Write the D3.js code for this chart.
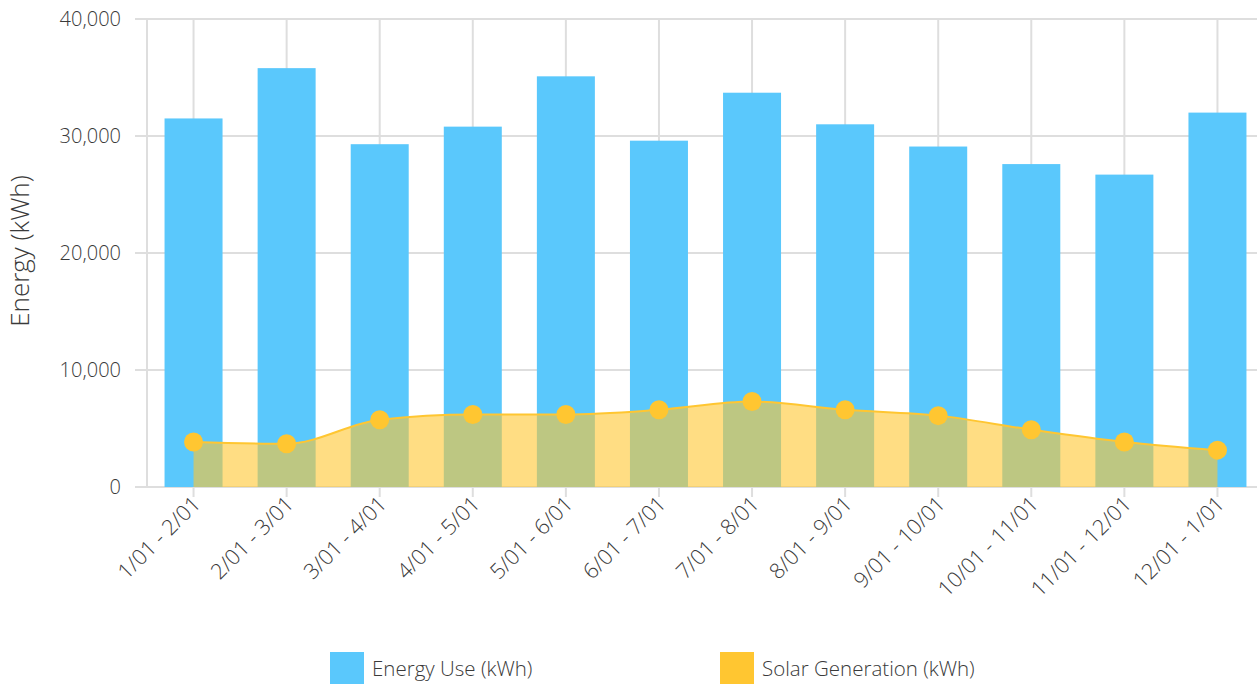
<!DOCTYPE html>
<html>
<head>
<meta charset="utf-8">
<script src="https://cdn.jsdelivr.net/npm/d3@7.9.0/dist/d3.min.js"></script>
<style>
  body { margin: 0; background: #fff; overflow: hidden; }
  text { font-family: "Open Sans", sans-serif; font-weight: 300; fill: #3a3a3a; }
</style>
</head>
<body>
<svg id="chart" width="1257" height="684"></svg>
<script>
const periods = ['1/01 - 2/01', '2/01 - 3/01', '3/01 - 4/01', '4/01 - 5/01', '5/01 - 6/01', '6/01 - 7/01',
  '7/01 - 8/01', '8/01 - 9/01', '9/01 - 10/01', '10/01 - 11/01', '11/01 - 12/01', '12/01 - 1/01'];
const energyUse = [31500, 35800, 29300, 30800, 35100, 29600, 33700, 31000, 29100, 27600, 26700, 32000];
const solarGen = [3850, 3700, 5750, 6200, 6200, 6600, 7300, 6600, 6100, 4900, 3850, 3150];
const yTicks = [0, 10000, 20000, 30000, 40000];

const blue = '#5ac8fc';
const yellow = '#ffc631';

const svg = d3.select('#chart');
const plotL = 147, plotR = 1264, plotT = 19, plotB = 487;

const x = d3.scaleBand().domain(periods).range([plotL, plotR]);
const y = d3.scaleLinear().domain([0, 40000]).range([plotB, plotT]);
const cx = d => x(d) + x.bandwidth() / 2;
const barW = 58;

// grid
const grid = svg.append('g');
grid.selectAll('.hgrid').data(yTicks).enter().append('line')
  .attr('x1', plotL - 12).attr('x2', 1257)
  .attr('y1', d => y(d)).attr('y2', d => y(d))
  .attr('stroke', '#dedede').attr('stroke-width', 2);
grid.selectAll('.vgrid').data(periods).enter().append('line')
  .attr('x1', cx).attr('x2', cx)
  .attr('y1', plotT).attr('y2', plotB + 10)
  .attr('stroke', '#dedede').attr('stroke-width', 2);
grid.append('line')
  .attr('x1', plotL).attr('x2', plotL).attr('y1', plotT).attr('y2', plotB)
  .attr('stroke', '#dedede').attr('stroke-width', 2);

// y labels
svg.selectAll('.ylab').data(yTicks).enter().append('text')
  .attr('x', 121).attr('y', d => y(d)).attr('dy', '0.35em')
  .attr('text-anchor', 'end').attr('font-size', 20)
  .text(d => d3.format(',')(d));

svg.append('text')
  .attr('transform', `translate(29,251) rotate(-90)`)
  .attr('text-anchor', 'middle').attr('font-size', 26)
  .attr('fill', '#555')
  .text('Energy (kWh)');

// bars
svg.selectAll('.bar').data(energyUse).enter().append('rect')
  .attr('x', (d, i) => cx(periods[i]) - barW / 2)
  .attr('width', barW)
  .attr('y', d => y(d))
  .attr('height', d => y(0) - y(d))
  .attr('fill', blue);

// solar area
const curve = d3.curveMonotoneX;
const area = d3.area()
  .x((d, i) => cx(periods[i]))
  .y0(y(0)).y1(d => y(d)).curve(curve);
svg.append('path').datum(solarGen).attr('d', area)
  .attr('fill', yellow).attr('fill-opacity', 0.6);

const line = d3.line()
  .x((d, i) => cx(periods[i]))
  .y(d => y(d)).curve(curve);
svg.append('path').datum(solarGen).attr('d', line)
  .attr('fill', 'none').attr('stroke', yellow).attr('stroke-width', 2);

svg.selectAll('.pt').data(solarGen).enter().append('circle')
  .attr('cx', (d, i) => cx(periods[i]))
  .attr('cy', d => y(d))
  .attr('r', 9.5)
  .attr('fill', yellow);

// x labels
svg.selectAll('.xlab').data(periods).enter().append('text')
  .attr('transform', d => `translate(${cx(d) + 3},${plotB + 13}) rotate(-45)`)
  .attr('text-anchor', 'end').attr('dy', '0.35em').attr('font-size', 21.5)
  .text(d => d);

// legend
const legend = [
  { name: 'Energy Use (kWh)', color: blue, x: 330 },
  { name: 'Solar Generation (kWh)', color: yellow, x: 720 }
];
const lg = svg.selectAll('.lg').data(legend).enter().append('g')
  .attr('transform', d => `translate(${d.x},652)`);
lg.append('rect').attr('width', 34).attr('height', 34).attr('fill', d => d.color);
lg.append('text').attr('x', 42).attr('y', 17).attr('dy', '0.35em')
  .attr('font-size', 20.5).attr('fill', '#555').text(d => d.name);
</script>
</body>
</html>
